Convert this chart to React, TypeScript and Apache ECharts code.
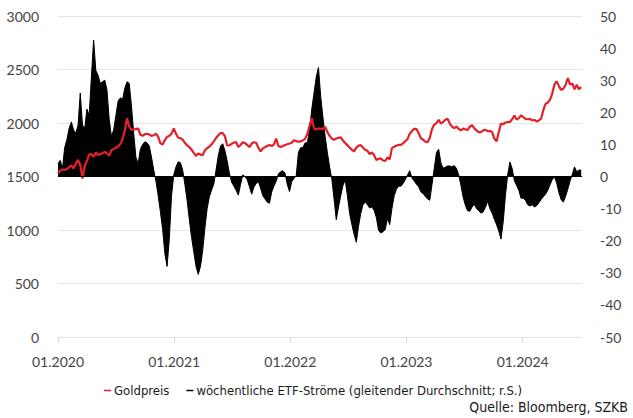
import React, { useEffect, useRef } from "react";
import * as echarts from "echarts";

// Weekly observations starting with the first week of January 2020
const startYear = 2020;
const weekStep = 7 / 365.25;

const goldPrice = [
  1530, 1555, 1567, 1560, 1570, 1585, 1605, 1575, 1620, 1655, 1610, 1480, 1600, 1645, 1705, 1710, 1685, 1724, 1700, 1710,
  1718, 1730, 1715, 1695, 1745, 1758, 1768, 1780, 1805, 1850, 1930, 2045, 1967, 1936, 1940, 1942, 1950, 1890, 1880, 1895,
  1900, 1893, 1880, 1885, 1900, 1870, 1810, 1800, 1840, 1870, 1880, 1900, 1950, 1900, 1862, 1858, 1845, 1815, 1790, 1775,
  1750, 1720, 1692, 1715, 1705, 1700, 1745, 1765, 1780, 1800, 1828, 1860, 1885, 1905, 1905, 1875, 1790, 1792, 1805, 1815,
  1822, 1775, 1795, 1820, 1812, 1795, 1775, 1808, 1820, 1815, 1770, 1735, 1762, 1775, 1785, 1795, 1785, 1800, 1855, 1785,
  1775, 1785, 1795, 1802, 1808, 1815, 1840, 1830, 1826, 1828, 1838, 1852, 1900, 1975, 2045, 1952, 1938, 1950, 1945, 1945,
  1965, 1915, 1880, 1855, 1842, 1855, 1862, 1865, 1836, 1812, 1793, 1770, 1750, 1735, 1770, 1788, 1793, 1770, 1750, 1740,
  1710, 1725, 1700, 1655, 1665, 1670, 1650, 1645, 1680, 1660, 1765, 1778, 1788, 1796, 1795, 1810, 1830, 1850, 1900, 1925,
  1945, 1945, 1905, 1858, 1845, 1825, 1820, 1860, 1945, 1985, 1999, 2030, 1995, 2010, 2030, 2040, 1995, 1965, 1952, 1967,
  1945, 1930, 1948, 1940, 1935, 1965, 1980, 1950, 1930, 1915, 1915, 1932, 1936, 1925, 1925, 1915, 1855, 1828, 1915, 1995,
  1988, 2005, 2008, 2010, 2035, 2070, 2032, 2045, 2072, 2055, 2038, 2035, 2038, 2025, 2028, 2015, 2024, 2040, 2120, 2180,
  2190, 2217, 2275, 2360, 2389, 2345, 2310, 2320, 2355, 2420, 2360, 2370, 2315, 2357, 2315, 2335,
];

const etfFlows = [
  4, 5, 2.5, 9, 11.5, 15, 17, 14.5, 13.5, 16, 26, 16, 15, 21, 19, 31, 42.5, 33, 31.5, 29,
  29.5, 30, 27, 17.8, 12.5, 14.5, 19, 23.5, 24.5, 24, 27.5, 29.5, 29, 22, 13.5, 6, 4, 8.5, 10, 10.8,
  10.5, 9.5, 6, 2, -1.5, -6, -11, -16.5, -24, -28, -19.5, -6, 0.5, 3, 4.6, 4.3, 2, -2.5, -7.5, -13.5,
  -19, -23.5, -28, -30.5, -28, -23, -16, -10, -6.3, -4.2, -2.3, 2, 6.5, 9.5, 10.2, 8, 4.8, 1, -1.8, -3,
  -4.3, -5.8, -2.5, 0.5, 0, -1, -3.2, -5.5, -3.3, -2.2, -1.6, -3.6, -6, -7, -8, -8.3, -4.8, -3, -1.5, 0.8,
  1.5, 1.8, 1, -2.5, -4.7, -1.6, -0.6, 0.3, 7.5, 9, 9, 10.5, 10.5, 14.5, 21, 26, 31, 34, 25, 18.5,
  12.5, 7.5, 3, -0.8, -7, -13.5, -9.5, -6, -2.8, -1, -6, -11.5, -15, -18, -20.5, -15.5, -11.5, -8.8, -8, -8.8,
  -9.8, -9.5, -10.6, -12.8, -16.8, -17.6, -17.2, -16.5, -13, -15, -10, -6, -4, -3, -3, -2.2, -1, 0.5, 1.8, -0.5,
  -1.4, -2.4, -3.2, -4.8, -5.3, -6.2, -7, -7.4, -2.5, 2.5, 7.5, 8.5, 4.2, 2.6, 2.9, 3.3, 3.3, 3, 3.4, 2.5,
  0.5, -2.8, -6.5, -9, -10.7, -10.8, -9.5, -8.7, -10, -10.7, -11.4, -11, -9.6, -7.7, -10, -11.4, -13.3, -15, -17, -19.5,
  -14, -5.8, 0.5, 4.5, 2.5, -1.3, -2.8, -4.3, -6.8, -6.7, -7.5, -8.8, -9.2, -8.8, -9.5, -9.1, -8.2, -7.2, -6.3, -5.5,
  -4.3, -2.6, -1, -0.1, -2, -5, -7.2, -8, -6.2, -4, -1.4, 0.6, 3, 1.5, 2, 2,
];

const yearTicks = [2020, 2021, 2022, 2023, 2024];
const xMax = 2024.511;

const seriesNames = ["Goldpreis", "wöchentliche ETF-Ströme (gleitender Durchschnitt; r.S.)"];
const sourceText = "Quelle: Bloomberg, SZKB";

const axisFont = "Lato, 'Open Sans', sans-serif";
const narrowFont = "'Liberation Sans Narrow', 'DejaVu Sans Condensed', 'Roboto Condensed', sans-serif";

export default function App() {
  const ref = useRef<HTMLDivElement>(null);

  useEffect(() => {
    if (!ref.current) return;
    const chart = echarts.init(ref.current, undefined, { renderer: "svg" });

    const goldData = goldPrice.map((v, i) => [startYear + i * weekStep, v]);
    const etfData = etfFlows.map((v, i) => [startYear + i * weekStep, v]);

    chart.setOption({
      animation: false,
      backgroundColor: "#ffffff",
      grid: { left: 58, right: 51, top: 16, bottom: 81, containLabel: false },
      legend: {
        data: [
          { name: seriesNames[0], itemStyle: { color: "#e3202a" } },
          { name: seriesNames[1], itemStyle: { color: "#000000" } },
        ],
        left: 99,
        top: 379,
        icon: "rect",
        itemWidth: 7,
        itemHeight: 1.5,
        itemGap: 17,
        textStyle: { fontFamily: narrowFont, fontSize: 13, color: "#1a1a1a", padding: [0, 0, 0, -2] },
      },
      graphic: [
        {
          type: "text",
          right: 5,
          top: 400,
          style: { text: sourceText, font: `14px ${narrowFont}`, fill: "#1a1a1a" },
        },
      ],
      xAxis: {
        type: "value",
        min: startYear,
        max: xMax,
        axisLine: { show: true, lineStyle: { color: "#e4e4e4", width: 1 } },
        axisTick: { show: true, length: 6, lineStyle: { color: "#dcdcdc" }, customValues: yearTicks },
        axisLabel: {
          customValues: yearTicks,
          formatter: (v: number) => "01." + Math.round(v),
          fontFamily: axisFont,
          fontSize: 14,
          color: "#444444",
          margin: 17,
        },
        splitLine: { show: false },
      },
      yAxis: [
        {
          type: "value",
          min: 0,
          max: 3000,
          interval: 500,
          position: "left",
          axisLine: { show: false },
          axisTick: { show: false },
          axisLabel: {
            formatter: (v: number) => String(v),
            fontFamily: axisFont,
            fontSize: 14,
            color: "#444444",
            margin: 19,
          },
          splitLine: { show: true, lineStyle: { color: "#e6e6e6", width: 1 } },
        },
        {
          type: "value",
          min: -50,
          max: 50,
          interval: 10,
          position: "right",
          axisLine: { show: false },
          axisTick: { show: false },
          axisLabel: {
            formatter: (v: number) => String(v),
            fontFamily: axisFont,
            fontSize: 14,
            color: "#444444",
            margin: 18,
          },
          splitLine: { show: false },
        },
      ],
      series: [
        {
          name: seriesNames[1],
          type: "line",
          yAxisIndex: 1,
          data: etfData,
          showSymbol: false,
          symbol: "none",
          smooth: false,
          lineStyle: { color: "#000000", width: 1 },
          itemStyle: { color: "#000000" },
          areaStyle: { color: "#000000", opacity: 1 },
          markLine: {
            silent: true,
            symbol: "none",
            label: { show: false },
            lineStyle: { color: "#000000", width: 1, type: "solid" },
            data: [{ yAxis: 0 }],
          },
          z: 2,
        },
        {
          name: seriesNames[0],
          type: "line",
          yAxisIndex: 0,
          data: goldData,
          showSymbol: false,
          symbol: "none",
          lineStyle: { color: "#e3202a", width: 2.2 },
          itemStyle: { color: "#e3202a" },
          z: 3,
        },
      ],
    });

    return () => chart.dispose();
  }, []);

  return <div ref={ref} style={{ width: 633, height: 418, position: "absolute", left: 0, top: 0 }} />;
}
